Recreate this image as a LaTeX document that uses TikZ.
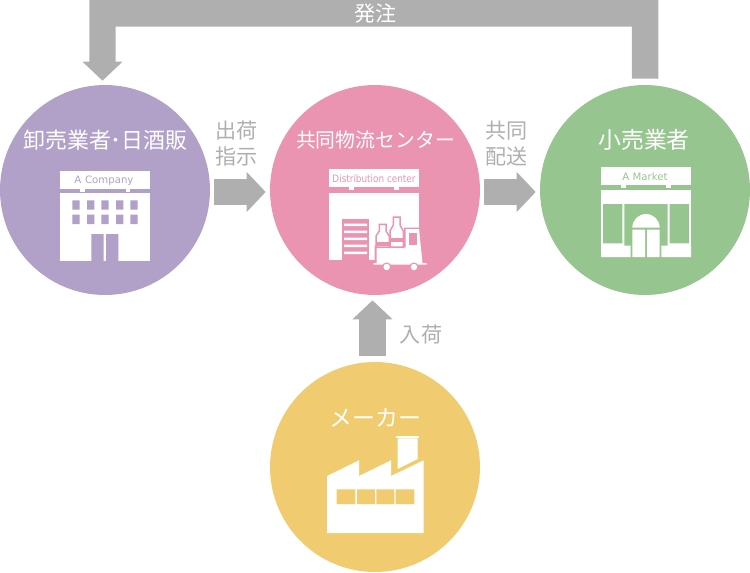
\documentclass[tikz,border=0pt]{standalone}
\usepackage{fontspec}
\setmainfont{Noto Sans CJK JP}
\newfontfamily\signfont{DejaVu Sans}
\usetikzlibrary{arrows.meta}

\definecolor{wholesalecolor}{HTML}{B1A1C8}
\definecolor{centercolor}{HTML}{EA94B2}
\definecolor{retailcolor}{HTML}{97C58F}
\definecolor{makercolor}{HTML}{F1CB70}
\definecolor{arrowcolor}{HTML}{AFAFAF}

\tikzset{
  stagecircle/.style={circle, minimum size=4.2cm, inner sep=0pt},
  stagetitle/.style={text=white, font=\fontsize{13}{14}\selectfont, inner sep=0pt},
  signtext/.style={font=\signfont\fontsize{5.8}{6}\selectfont, inner sep=0pt},
  steplabel/.style={text=arrowcolor, font=\fontsize{12}{14.9}\selectfont, align=center, inner sep=0pt},
  blockarrow/.style={draw=arrowcolor, line width=0.53cm, line join=miter,
    -{Triangle[length=0.38cm, width=0.78cm]}}
}

\begin{document}
\begin{tikzpicture}[x=0.02cm, y=-0.02cm]
\useasboundingbox (0,0) rectangle (750,572);

% stages
\node [stagecircle, fill=wholesalecolor] (wholesale) at (105,190) {};
\node [stagecircle, fill=centercolor] (center) at (375,190) {};
\node [stagecircle, fill=retailcolor] (retail) at (645,190) {};
\node [stagecircle, fill=makercolor] (maker) at (375,467) {};

\node [stagetitle, font=\fontsize{12.5}{14}\selectfont] (wholesaletitle) at (105.5,140) {卸売業者･日酒販};
\node [stagetitle, font=\fontsize{11.3}{14}\selectfont] (centertitle) at (375.5,140) {共同物流センター};
\node [stagetitle] (retailtitle) at (644,140) {小売業者};
\node [stagetitle] (makertitle) at (375.5,418) {メーカー};

% flows
\draw [blockarrow, shorten <=0.08cm, shorten >=0.08cm]
([yshift=-0.04cm]wholesale.east) --
([yshift=-0.04cm]center.west);

\draw [blockarrow, shorten <=0.08cm, shorten >=0.08cm]
([yshift=-0.04cm]center.east) --
([yshift=-0.04cm]retail.west);

\draw [blockarrow, shorten <=0.12cm, shorten >=0.1cm]
([xshift=-0.05cm]maker.north) --
([xshift=-0.05cm]center.south);

\coordinate (orderright) at (645,13.25);
\coordinate (orderleft) at (102.5,13.25);

\draw [blockarrow, shorten <=0.12cm, shorten >=0.08cm]
(retail.north) --
(orderright) --
(orderleft) --
([xshift=-0.05cm]wholesale.north);

\node [stagetitle, font=\fontsize{12}{14}\selectfont] (orderlabel) at (375.5,13.5) {発注};
\node [steplabel] (shiplabel) at (236.5,143.5) {出荷\\指示};
\node [steplabel] (deliverylabel) at (506.5,143.5) {共同\\配送};
\node [steplabel, align=left] (inboundlabel) at (421,334) {入荷};

% wholesale building
\fill [white] (60,171) rectangle (150,188.5);
\fill [white] (80.3,188.5) rectangle (84.7,191.7);
\fill [white] (125.7,188.5) rectangle (130,191.7);
\fill [white] (60,193.3) rectangle (150,261);
\node [signtext, text=wholesalecolor] (companysign) at (104,180.5) {A\hspace{0.35em}Company};
\fill [wholesalecolor]
(72.3,200.3) rectangle (79.7,209.7)
(87,200.3) rectangle (94.3,209.7)
(101.3,200.3) rectangle (108.7,209.7)
(116,200.3) rectangle (123.3,209.7)
(130.3,200.3) rectangle (137.7,209.7)
(72.3,214.7) rectangle (79.7,224)
(87,214.7) rectangle (94.3,224)
(101.3,214.7) rectangle (108.7,224)
(116,214.7) rectangle (123.3,224)
(130.3,214.7) rectangle (137.7,224)
(91.3,234) rectangle (103.7,261)
(106,234) rectangle (118.3,261);

% center warehouse
\fill [white] (329,169) rectangle (419,187);
\fill [white] (349,187) rectangle (353.7,190);
\fill [white] (394.3,187) rectangle (399,190);
\fill [white] (329,192.7) rectangle (419,260);
\node [signtext, text=centercolor, transform shape, xscale=0.87] (centersign) at (374,178.5) {Distribution center};
\fill [centercolor] (341.5,219) rectangle (369,260);
\fill [white]
(344,223.5) rectangle (367,226)
(344,230.5) rectangle (367,233)
(344,237.5) rectangle (367,240)
(344,244.5) rectangle (367,247)
(344,251.5) rectangle (367,254);

% truck
\fill [centercolor]
(374.5,245.5) -- (404,245.5) -- (404,227.5) -- (420,227.5) -- (424,262) --
(428,262) -- (428,266) -- (372,266) -- (372,262) -- (374.5,262) -- cycle;
\fill [white]
(376.5,247.5) -- (405.5,247.5) -- (405.5,229) -- (419,229) -- (422.5,263) --
(426.5,263) -- (426.5,264.7) -- (373.5,264.7) -- (373.5,263) -- (376.5,263) -- cycle;
\fill [centercolor] (409,232.7) rectangle (417.3,245.3);
\fill [centercolor] (386.7,267) circle (4.6);
\fill [centercolor] (414,267) circle (4.6);
\fill [white] (386.7,267) circle (3.2);
\fill [white] (414,267) circle (3.2);

% bottles
\filldraw [fill=white, draw=centercolor, line width=0.03cm]
(379.3,224.3) -- (386,224.3) -- (386,231) -- (389.3,236) -- (389.3,247) --
(376,247) -- (376,236) -- (379.3,231) -- cycle;
\filldraw [fill=white, draw=centercolor, line width=0.03cm]
(393.3,217) -- (400,217) -- (400,225) -- (403.3,231) -- (403.3,247) --
(390,247) -- (390,231) -- (393.3,225) -- cycle;
\fill [centercolor] (377,242) rectangle (388.5,245.5);
\fill [centercolor] (391,238) rectangle (402.5,242);

% retail store
\fill [white] (601,167) rectangle (691,185);
\fill [white] (621.3,185) rectangle (625.7,188);
\fill [white] (666.3,185) rectangle (670.7,188);
\fill [white] (601,189.7) rectangle (691,257);
\node [signtext, text=retailcolor] (marketsign) at (645,176.3) {A Market};
\fill [retailcolor]
(603,204) rectangle (622.3,243.3)
(669.7,204) rectangle (689,243.3)
(624.3,204) rectangle (667.7,257);
\fill [white] (632.3,227.7) arc [start angle=180, end angle=360, radius=13.7];
\fill [white]
(601,245.7) rectangle (630.7,257)
(661.3,245.7) rectangle (691,257)
(632.3,229.7) rectangle (645,257)
(647,229.7) rectangle (659.7,257);

% maker factory
\fill [white]
(327,533) -- (327,476) -- (359,460.3) -- (359,476) -- (391,460.3) --
(391,476) -- (423.7,460.3) -- (423.7,533) -- cycle;
\fill [white] (396,436) rectangle (419,438.3);
\fill [white] (397.7,438.3) -- (417.7,438.3) -- (417.7,459) -- (397.7,469) -- cycle;
\fill [makercolor]
(336.7,489.3) rectangle (355.3,504)
(357,489.3) rectangle (375,504)
(376.3,489.3) rectangle (394.3,504)
(395.7,489.3) rectangle (414.3,504);
\end{tikzpicture}
\end{document}
